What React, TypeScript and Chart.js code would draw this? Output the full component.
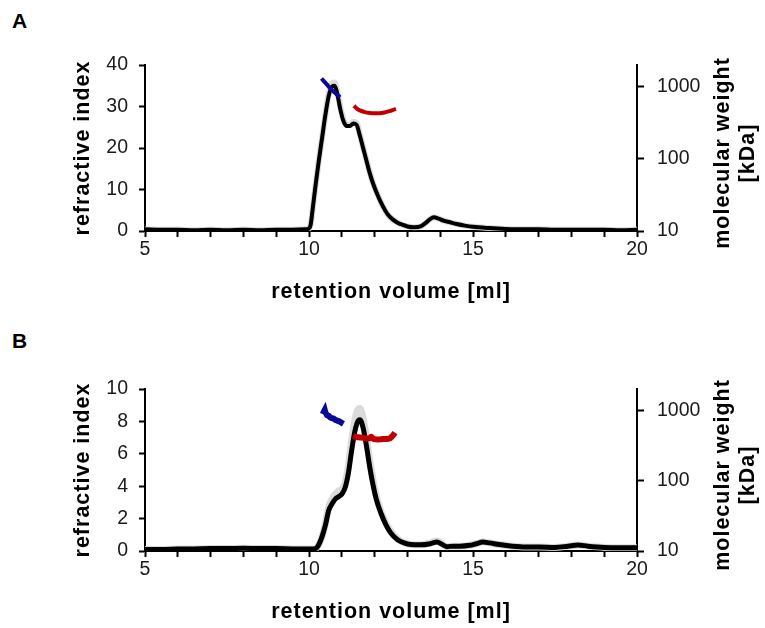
import React, { useEffect, useRef } from "react";
import { Chart, registerables } from "chart.js";
Chart.register(...registerables);

const FONT = '"Liberation Sans", Arial, Helvetica, sans-serif';

// ---------- shared labels ----------
const X_TITLE = "retention volume [ml]";
const Y_TITLE = "refractive index";
const Y2_TITLE = ["molecular weight", "[kDa]"];
const X_TICKS = [5, 6, 7, 8, 9, 10, 11, 12, 13, 14, 15, 16, 17, 18, 19, 20];
const Y2_TICKS = [10, 100, 1000];

// ---------- Panel A ----------
const A_Y_TICKS = [0, 10, 20, 30, 40];
const A_RI_X = [5, 5.5, 6, 6.5, 7, 7.5, 8, 8.5, 9, 9.5, 9.9, 10.0, 10.05, 10.1, 10.2, 10.3, 10.4, 10.5, 10.6, 10.7, 10.78, 10.85, 10.95, 11.05, 11.15, 11.25, 11.35, 11.45, 11.55, 11.65, 11.75, 11.85, 11.95, 12.1, 12.25, 12.4, 12.55, 12.7, 12.85, 13.0, 13.2, 13.4, 13.55, 13.7, 13.8, 13.95, 14.1, 14.3, 14.5, 14.75, 15.0, 15.5, 16.0, 16.5, 17, 17.5, 18, 18.5, 19, 19.5, 20];
const A_RI_Y = [0.4, 0.3, 0.3, 0.2, 0.3, 0.2, 0.3, 0.2, 0.3, 0.3, 0.4, 0.6, 1.5, 4.5, 11, 17, 22.5, 28, 32.5, 34.8, 35, 33.5, 29.5, 26.5, 25.3, 25.3, 25.9, 25.6, 23, 20, 17, 14, 11.5, 8.5, 6, 4, 2.8, 2, 1.5, 1.1, 0.9, 1.1, 1.9, 2.9, 3.3, 3.0, 2.5, 2.1, 1.7, 1.3, 1.0, 0.7, 0.5, 0.4, 0.4, 0.3, 0.3, 0.3, 0.3, 0.2, 0.3];
const A_RI2_Y = [0.4, 0.3, 0.3, 0.2, 0.3, 0.2, 0.3, 0.2, 0.3, 0.3, 0.4, 0.6, 1.5, 4.5, 11, 17, 22.5, 28, 33, 35.6, 35.8, 34.2, 30, 26.8, 25.6, 25.6, 26.3, 26, 23.3, 20.2, 17.2, 14.2, 11.6, 8.6, 6, 4, 2.8, 2, 1.5, 1.1, 0.9, 1.1, 1.9, 2.9, 3.3, 3.0, 2.5, 2.1, 1.7, 1.3, 1.0, 0.7, 0.5, 0.4, 0.4, 0.3, 0.3, 0.3, 0.3, 0.2, 0.3];
const A_MW1_X = [10.38, 10.48, 10.58, 10.68, 10.78, 10.88, 10.95];
const A_MW1_Y = [1300, 1160, 1030, 920, 830, 760, 715];
const A_MW2_X = [11.37, 11.45, 11.55, 11.7, 11.85, 12.0, 12.15, 12.3, 12.45, 12.55, 12.65];
const A_MW2_Y = [545, 500, 470, 445, 432, 428, 430, 440, 458, 475, 495];

// ---------- Panel B ----------
const B_Y_TICKS = [0, 2, 4, 6, 8, 10];
const B_RI_X = [5, 5.5, 6, 6.5, 7, 7.5, 8, 8.5, 9, 9.5, 10, 10.2, 10.3, 10.4, 10.5, 10.6, 10.7, 10.8, 10.9, 11.0, 11.1, 11.2, 11.3, 11.4, 11.5, 11.55, 11.65, 11.75, 11.85, 11.95, 12.05, 12.2, 12.35, 12.5, 12.7, 12.9, 13.1, 13.4, 13.7, 13.9, 14.05, 14.2, 14.4, 14.6, 14.9, 15.1, 15.3, 15.5, 15.8, 16.2, 16.6, 17, 17.5, 17.9, 18.2, 18.5, 19, 19.5, 20];
const B_RI_Y = [0.1, 0.1, 0.12, 0.13, 0.15, 0.15, 0.17, 0.15, 0.15, 0.13, 0.12, 0.15, 0.4, 0.9, 1.6, 2.5, 2.9, 3.2, 3.35, 3.5, 3.9, 4.8, 6.2, 7.4, 8.05, 8.1, 7.6, 6.5, 5.2, 4.1, 3.2, 2.3, 1.6, 1.1, 0.7, 0.5, 0.4, 0.38, 0.45, 0.55, 0.42, 0.27, 0.3, 0.3, 0.35, 0.45, 0.55, 0.5, 0.4, 0.3, 0.25, 0.25, 0.22, 0.3, 0.37, 0.3, 0.22, 0.2, 0.2];
const B_RI2_Y = [0.1, 0.1, 0.12, 0.13, 0.15, 0.15, 0.17, 0.15, 0.15, 0.13, 0.12, 0.15, 0.4, 0.9, 1.7, 2.7, 3.2, 3.5, 3.7, 3.8, 4.2, 5.2, 6.8, 8.1, 8.75, 8.8, 8.2, 7.0, 5.6, 4.4, 3.4, 2.4, 1.7, 1.2, 0.75, 0.5, 0.4, 0.38, 0.5, 0.62, 0.45, 0.27, 0.3, 0.3, 0.35, 0.45, 0.55, 0.5, 0.4, 0.3, 0.25, 0.25, 0.22, 0.3, 0.37, 0.3, 0.22, 0.2, 0.2];
const B_MW1_X = [10.42, 10.45, 10.48, 10.5, 10.55, 10.6, 10.65, 10.7, 10.75, 10.8, 10.85, 10.9, 10.95, 11.0, 11.05];
const B_MW1_Y = [880, 950, 1010, 930, 850, 830, 790, 770, 760, 730, 715, 700, 680, 660, 640];
const B_MW2_X = [11.35, 11.45, 11.55, 11.65, 11.75, 11.85, 11.9, 11.95, 12.05, 12.15, 12.25, 12.35, 12.45, 12.52, 12.58, 12.62];
const B_MW2_Y = [430, 415, 410, 405, 398, 400, 420, 395, 385, 385, 390, 390, 395, 420, 450, 480];

const toXY = (xs: number[], ys: number[]) => xs.map((x, i) => ({ x, y: ys[i] }));

const titlesPlugin = {
  id: "axisTitles",
  afterDraw(chart: any) {
    const { ctx, chartArea } = chart;
    const cy = (chartArea.top + chartArea.bottom) / 2;
    const cx = (chartArea.left + chartArea.right) / 2;
    ctx.save();
    ctx.letterSpacing = "1px";
    ctx.font = `bold 21.5px ${FONT}`;
    ctx.fillStyle = "#000";
    ctx.textAlign = "center";
    ctx.textBaseline = "middle";
    // bottom
    ctx.fillText(X_TITLE, cx, chartArea.bottom + 61);
    // left
    ctx.save();
    ctx.translate(83.5, cy);
    ctx.rotate(-Math.PI / 2);
    ctx.fillText(Y_TITLE, 0, 0);
    ctx.restore();
    // right
    ctx.save();
    ctx.translate(723, cy + 5);
    ctx.rotate(-Math.PI / 2);
    ctx.fillText(Y2_TITLE[0], 0, 0);
    ctx.fillText(Y2_TITLE[1], 0, 25);
    ctx.restore();
    ctx.restore();
  },
};

type PanelProps = {
  top: number;
  height: number;
  padTop: number;
  chartBottom: number;
  yMax: number;
  yTicks: number[];
  ri: { x: number; y: number }[];
  ri2: { x: number; y: number }[];
  mw1: { x: number; y: number }[];
  mw2: { x: number; y: number }[];
  riWidth: number;
  mwWidth: number;
  mw1Tension: number;
};

function Panel(p: PanelProps) {
  const ref = useRef<HTMLCanvasElement>(null);
  useEffect(() => {
    if (!ref.current) return;
    const tickFont = { size: 19.5, family: FONT };
    const grid = { display: true, drawOnChartArea: false, drawTicks: true, tickLength: 6, tickColor: "#000", tickWidth: 2 };
    const border = { display: true, color: "#000", width: 2 };
    const chart = new Chart(ref.current, {
      type: "line",
      data: {
        datasets: [
          { data: p.ri2, borderColor: "rgba(215,215,215,0.9)", borderWidth: p.riWidth + 2, pointRadius: 0, cubicInterpolationMode: "monotone", yAxisID: "y", order: 4 },
          { data: p.ri, borderColor: "#000", borderWidth: p.riWidth, pointRadius: 0, cubicInterpolationMode: "monotone", yAxisID: "y", order: 3 },
          { data: p.mw1, borderColor: "#0a0a96", borderWidth: p.mwWidth, pointRadius: 0, tension: p.mw1Tension, yAxisID: "y2", order: 1 },
          { data: p.mw2, borderColor: "#c00000", borderWidth: p.mwWidth, pointRadius: 0, tension: 0.4, yAxisID: "y2", order: 1 },
        ],
      },
      options: {
        responsive: false,
        animation: false,
        devicePixelRatio: 1,
        layout: { padding: { top: p.padTop, left: 0, right: 0, bottom: 0 } },
        plugins: { legend: { display: false }, tooltip: { enabled: false } },
        scales: {
          x: {
            type: "linear",
            position: "bottom",
            min: 5,
            max: 20,
            afterBuildTicks: (s: any) => { s.ticks = X_TICKS.map((v) => ({ value: v })); },
            ticks: { callback: (v: any) => (Number(v) % 5 === 0 ? String(v) : ""), font: tickFont, color: "#1a1a1a", padding: 1, maxRotation: 0, autoSkip: false },
            grid,
            border,
            afterFit: (s: any) => { s.height = p.height - p.chartBottom; },
          },
          y: {
            type: "linear",
            position: "left",
            min: 0,
            max: p.yMax,
            afterBuildTicks: (s: any) => { s.ticks = p.yTicks.map((v) => ({ value: v })); },
            ticks: { font: tickFont, color: "#1a1a1a", padding: 11 },
            grid,
            border,
            afterFit: (s: any) => { s.width = 145; },
          },
          y2: {
            type: "logarithmic",
            position: "right",
            min: 10,
            max: 2000,
            afterBuildTicks: (s: any) => { s.ticks = Y2_TICKS.map((v) => ({ value: v })); },
            ticks: { callback: (v: any) => String(v), font: tickFont, color: "#1a1a1a", padding: 13 },
            grid: { ...grid, tickLength: 7 },
            border,
            afterFit: (s: any) => { s.width = 128; },
          },
        },
      },
      plugins: [titlesPlugin],
    } as any);
    return () => chart.destroy();
  }, []);
  return (
    <canvas
      ref={ref}
      width={765}
      height={p.height}
      style={{ position: "absolute", left: 0, top: p.top, width: 765, height: p.height }}
    />
  );
}

const letterStyle: React.CSSProperties = {
  position: "absolute",
  left: 12,
  fontFamily: FONT,
  fontWeight: "bold",
  fontSize: 21,
  lineHeight: "21px",
  color: "#000",
};

export default function App() {
  return (
    <div style={{ position: "absolute", left: 0, top: 0, width: 765, height: 628, background: "#fff", overflow: "hidden" }}>
      <div style={{ ...letterStyle, top: 10 }}>A</div>
      <div style={{ ...letterStyle, top: 330 }}>B</div>
      <Panel
        top={0}
        height={318}
        padTop={65}
        chartBottom={231}
        yMax={40}
        yTicks={A_Y_TICKS}
        ri={toXY(A_RI_X, A_RI_Y)}
        ri2={toXY(A_RI_X, A_RI2_Y)}
        mw1={toXY(A_MW1_X, A_MW1_Y)}
        mw2={toXY(A_MW2_X, A_MW2_Y)}
        riWidth={4}
        mwWidth={4}
        mw1Tension={0.4}
      />
      <Panel
        top={318}
        height={310}
        padTop={71}
        chartBottom={233}
        yMax={10}
        yTicks={B_Y_TICKS}
        ri={toXY(B_RI_X, B_RI_Y)}
        ri2={toXY(B_RI_X, B_RI2_Y)}
        mw1={toXY(B_MW1_X, B_MW1_Y)}
        mw2={toXY(B_MW2_X, B_MW2_Y)}
        riWidth={5}
        mwWidth={6}
        mw1Tension={0}
      />
    </div>
  );
}
